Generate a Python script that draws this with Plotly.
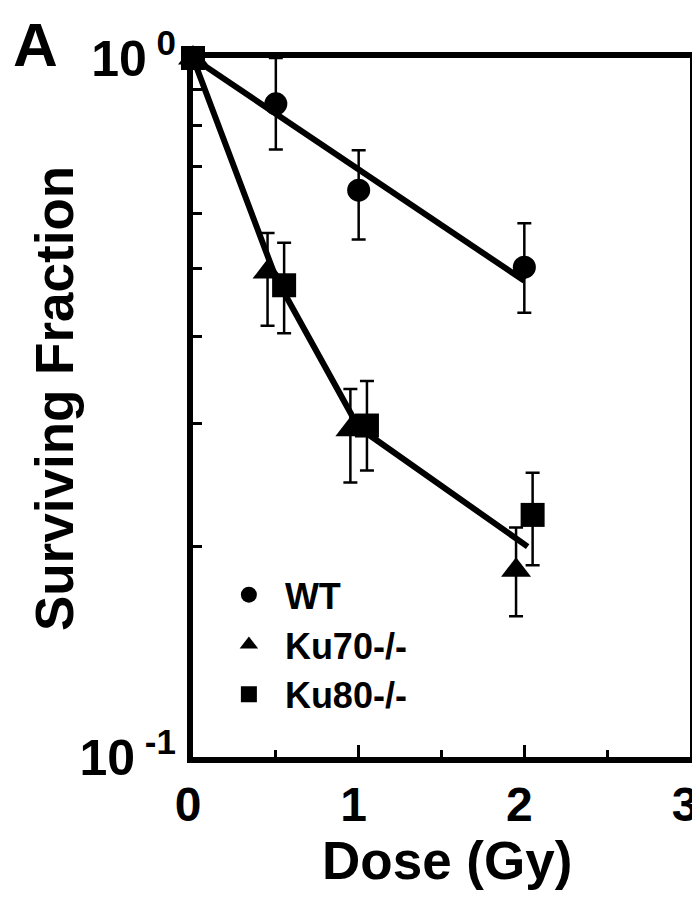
import plotly.graph_objects as go

# dose (Gy) and surviving fraction
wt_dose = [0, 0.5, 1.0, 2.0]
wt_sf = [1.0, 0.86, 0.647, 0.502]
wt_hi = [1.0, 1.0, 0.738, 0.58]
wt_lo = [1.0, 0.74, 0.55, 0.432]

ku70_dose = [0, 0.45, 0.95, 1.95]
ku70_sf = [1.0, 0.494, 0.294, 0.185]
ku70_hi = [1.0, 0.562, 0.336, 0.213]
ku70_lo = [1.0, 0.414, 0.247, 0.159]

ku80_dose = [0, 0.55, 1.05, 2.05]
ku80_sf = [1.0, 0.473, 0.298, 0.222]
ku80_hi = [1.0, 0.544, 0.345, 0.255]
ku80_lo = [1.0, 0.404, 0.257, 0.188]

# fitted curves
wt_fit_x = [0, 2.0]
wt_fit_y = [1.0, 0.48]
ku_fit_x = [0, 0.5, 1.0, 2.02]
ku_fit_y = [1.0, 0.485, 0.296, 0.2]

x_ticks = [0, 1, 2, 3]
y_ticks = [0.1, 1]
y_ticktext = ["10<sup style='font-size:22px'> -1</sup>",
              "10<sup style='font-size:24px'> 0</sup>"]
y_minor = [0.2, 0.3, 0.4, 0.5, 0.6, 0.7, 0.8, 0.9]

FONT = "Liberation Sans"

fig = go.Figure()

# fit lines first so markers sit on top
fig.add_trace(go.Scatter(x=wt_fit_x, y=wt_fit_y, mode="lines",
                         line=dict(color="black", width=6), showlegend=False,
                         cliponaxis=False, hoverinfo="skip"))
fig.add_trace(go.Scatter(x=ku_fit_x, y=ku_fit_y, mode="lines",
                         line=dict(color="black", width=6), showlegend=False,
                         cliponaxis=False, hoverinfo="skip"))


def err(y, hi, lo):
    return dict(type="data", symmetric=False,
                array=[h - v for h, v in zip(hi, y)],
                arrayminus=[v - l for l, v in zip(lo, y)],
                color="black", thickness=2.5, width=7)


fig.add_trace(go.Scatter(x=wt_dose, y=wt_sf, mode="markers", name="WT",
                         marker=dict(symbol="circle", size=23, color="black"),
                         error_y=err(wt_sf, wt_hi, wt_lo), cliponaxis=False))
fig.add_trace(go.Scatter(x=ku70_dose, y=ku70_sf, mode="markers", name="Ku70-/-",
                         marker=dict(symbol="triangle-up", size=26, color="black"),
                         error_y=err(ku70_sf, ku70_hi, ku70_lo), cliponaxis=False))
fig.add_trace(go.Scatter(x=ku80_dose, y=ku80_sf, mode="markers", name="Ku80-/-",
                         marker=dict(symbol="square", size=24, color="black"),
                         error_y=err(ku80_sf, ku80_hi, ku80_lo), cliponaxis=False))

# page body adds 8px margin, so the figure is 692x892
fig.update_layout(
    width=692, height=892,
    margin=dict(l=185, r=10, t=50, b=143),
    paper_bgcolor="white", plot_bgcolor="white",
    font=dict(family=FONT, color="black", weight="bold"),
    legend=dict(x=0.04, y=0.275, xanchor="left", yanchor="top",
                itemwidth=62,
                font=dict(size=36, family=FONT, weight="bold"),
                bgcolor="rgba(0,0,0,0)", tracegroupgap=0),
    xaxis=dict(range=[0, 3], tickvals=x_ticks, showgrid=False, zeroline=False,
               automargin=False,
               showline=True, linecolor="black", linewidth=6, mirror=True,
               ticks="inside", ticklen=12, tickwidth=3, tickcolor="black",
               ticklabelshift=-5,
               minor=dict(dtick=0.5, ticks="inside", ticklen=7, tickwidth=3,
                          tickcolor="black", showgrid=False),
               tickfont=dict(size=48, family=FONT, weight="bold")),
    yaxis=dict(type="log", range=[-1, 0], tickvals=y_ticks, ticktext=y_ticktext,
               showgrid=False, zeroline=False, automargin=False,
               showline=True, linecolor="black", linewidth=6, mirror=True,
               ticks="inside", ticklen=9, tickwidth=3, tickcolor="black",
               ticklabelstandoff=1,
               minor=dict(tickvals=y_minor, ticks="inside", ticklen=9,
                          tickwidth=3, tickcolor="black", showgrid=False),
               tickfont=dict(size=50, family=FONT, weight="bold")),
)

# axis titles as annotations to place them like the original
fig.add_annotation(text="Surviving Fraction", textangle=-90,
                   x=0.0, y=0.512, xref="paper", yref="paper",
                   xanchor="center", yanchor="middle", showarrow=False,
                   xshift=-139,
                   font=dict(size=53, family=FONT, weight="bold"))
fig.add_annotation(text="Dose (Gy)", x=0.511, y=0.0, xref="paper", yref="paper",
                   xanchor="center", yanchor="middle", showarrow=False,
                   yshift=-103,
                   font=dict(size=53, family=FONT, weight="bold"))

# panel letter
fig.add_annotation(text="A", x=0.0, y=1.0, xref="paper", yref="paper",
                   xanchor="left", yanchor="top", showarrow=False,
                   xshift=-182, yshift=50,
                   font=dict(size=62, family=FONT, weight="bold"))

fig.write_html("out.html")
